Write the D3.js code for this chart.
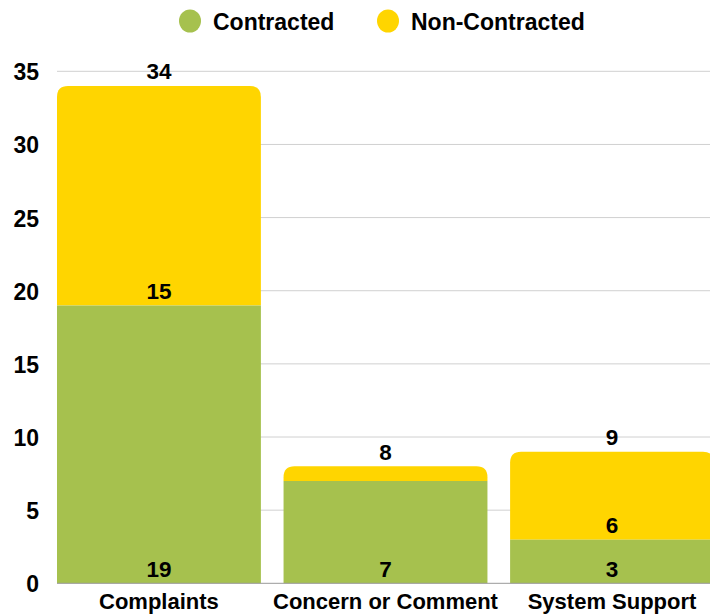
<!DOCTYPE html>
<html><head><meta charset="utf-8">
<script src="https://cdn.jsdelivr.net/npm/d3@7"></script>
<style>body{margin:0;background:#fff}svg{display:block}text{font-family:"Liberation Sans",Arial,sans-serif;font-weight:bold;fill:#000}</style>
</head><body><svg id="c" width="710" height="615"></svg>
<script>
const categories = ["Complaints", "Concern or Comment", "System Support"];
const series = ["Contracted", "Non-Contracted"];
const contracted = [19, 7, 3];
const nonContracted = [15, 1, 6];
const yTicks = [0, 5, 10, 15, 20, 25, 30, 35];
const colors = ["#A6C14E", "#FFD500"];

const svg = d3.select("#c");
const x = d3.scaleBand().domain(categories).range([57, 714]).paddingInner(0.1).paddingOuter(0);
const y = d3.scaleLinear().domain([0, 35]).range([583.3, 71.3]);

// gridlines
svg.append("g").selectAll("line").data(yTicks.filter(d => d > 0)).join("line")
  .attr("x1", 57).attr("x2", 710).attr("y1", d => y(d)).attr("y2", d => y(d))
  .attr("stroke", "#d0d0d0").attr("stroke-width", 1);

// y tick labels
svg.append("g").selectAll("text").data(yTicks).join("text")
  .attr("x", 39).attr("y", d => y(d) + 9).attr("text-anchor", "end")
  .style("font-size", "23px").text(d => d);

const data = categories.map((c, i) => ({cat: c, vals: [contracted[i], nonContracted[i]]}));
const r = 11;
function roundTop(x0, y0, w, h, rr) {
  rr = Math.min(rr, h, w / 2);
  return `M${x0},${y0 + h}V${y0 + rr}Q${x0},${y0} ${x0 + rr},${y0}H${x0 + w - rr}Q${x0 + w},${y0} ${x0 + w},${y0 + rr}V${y0 + h}Z`;
}

data.forEach(d => {
  const bx = x(d.cat), bw = x.bandwidth();
  let base = 0;
  const total = d.vals[0] + d.vals[1];
  d.vals.forEach((v, j) => {
    const y0 = y(base + v), y1 = y(base);
    if (j === d.vals.length - 1) {
      svg.append("path").attr("d", roundTop(bx, y0, bw, y1 - y0, r)).attr("fill", colors[j]);
    } else {
      svg.append("rect").attr("x", bx).attr("y", y0).attr("width", bw).attr("height", y1 - y0).attr("fill", colors[j]);
    }
    if (v >= 2) {
      svg.append("text").attr("x", bx + bw / 2).attr("y", y1 - 6).attr("text-anchor", "middle")
        .style("font-size", "22.5px").text(v);
    }
    base += v;
  });
  svg.append("text").attr("x", bx + bw / 2).attr("y", y(total) - 6.5).attr("text-anchor", "middle")
    .style("font-size", "22.5px").text(total);
  svg.append("text").attr("x", bx + bw / 2).attr("y", 609).attr("text-anchor", "middle")
    .style("font-size", "22px").text(d.cat);
});

// baseline
svg.append("line").attr("x1", 57).attr("x2", 710).attr("y1", y(0)).attr("y2", y(0))
  .attr("stroke", "#999").attr("stroke-width", 1);

// legend
const legX = [190, 388];
series.forEach((s, i) => {
  svg.append("ellipse").attr("cx", legX[i]).attr("cy", 21).attr("rx", 11).attr("ry", 11.5).attr("fill", colors[i]);
  svg.append("text").attr("x", legX[i] + 23).attr("y", 29.5).style("font-size", "23px").text(s);
});
</script></body></html>
